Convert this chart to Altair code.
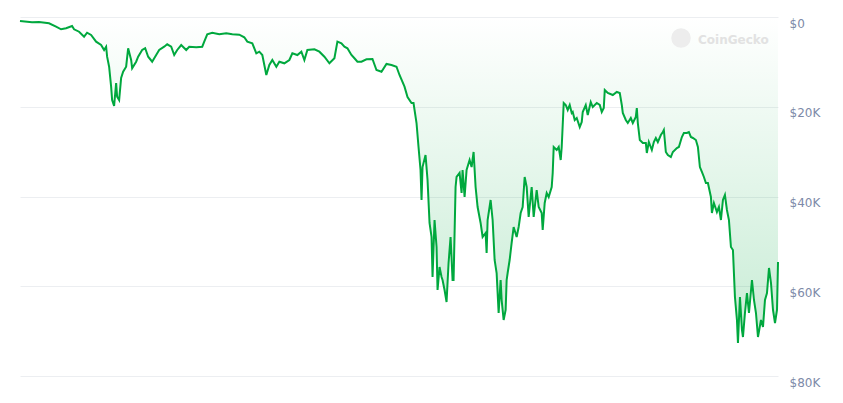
import altair as alt
import pandas as pd

# Time (fractional year) and price (USD)
years = [
    2017.01, 2017.13, 2017.20, 2017.30, 2017.37, 2017.42, 2017.47, 2017.53, 2017.55, 2017.60,
    2017.65, 2017.68, 2017.72, 2017.77, 2017.82, 2017.85, 2017.87, 2017.88, 2017.90, 2017.92,
    2017.93, 2017.95, 2017.97, 2017.98, 2018.00, 2018.02, 2018.04, 2018.07, 2018.09, 2018.12,
    2018.13, 2018.17, 2018.19, 2018.23, 2018.26, 2018.29, 2018.33, 2018.37, 2018.40, 2018.45,
    2018.48, 2018.52, 2018.55, 2018.58, 2018.62, 2018.67, 2018.70, 2018.77, 2018.83, 2018.85,
    2018.88, 2018.93, 2019.00, 2019.07, 2019.13, 2019.20, 2019.25, 2019.28, 2019.33, 2019.37,
    2019.40, 2019.43, 2019.47, 2019.50, 2019.53, 2019.57, 2019.60, 2019.65, 2019.70, 2019.73,
    2019.78, 2019.82, 2019.85, 2019.88, 2019.95, 2020.00, 2020.05, 2020.10, 2020.15, 2020.18,
    2020.22, 2020.25, 2020.28, 2020.32, 2020.35, 2020.38, 2020.42, 2020.47, 2020.53, 2020.57,
    2020.62, 2020.67, 2020.72, 2020.77, 2020.80, 2020.85, 2020.88, 2020.92, 2020.94, 2020.97,
    2020.99, 2021.01, 2021.02, 2021.03, 2021.06, 2021.08, 2021.10, 2021.12, 2021.13, 2021.15,
    2021.17, 2021.18, 2021.20, 2021.22, 2021.23, 2021.25, 2021.27, 2021.29, 2021.31, 2021.33,
    2021.34, 2021.36, 2021.37, 2021.40, 2021.42, 2021.43, 2021.45, 2021.47, 2021.50, 2021.52,
    2021.54, 2021.56, 2021.58, 2021.61, 2021.63, 2021.66, 2021.67, 2021.68, 2021.71, 2021.73,
    2021.75, 2021.77, 2021.79, 2021.81, 2021.82, 2021.84, 2021.86, 2021.87, 2021.88, 2021.90,
    2021.92, 2021.94, 2021.97, 2021.99, 2022.01, 2022.03, 2022.05, 2022.07, 2022.09, 2022.12,
    2022.14, 2022.17, 2022.19, 2022.22, 2022.23, 2022.25, 2022.27, 2022.29, 2022.32, 2022.33,
    2022.34, 2022.37, 2022.39, 2022.41, 2022.42, 2022.44, 2022.46, 2022.48, 2022.50, 2022.52,
    2022.53, 2022.55, 2022.57, 2022.60, 2022.62, 2022.63, 2022.66, 2022.68, 2022.71, 2022.73,
    2022.77, 2022.80, 2022.82, 2022.84, 2022.85, 2022.88, 2022.93, 2022.97, 2023.00, 2023.02,
    2023.03, 2023.06, 2023.08, 2023.11, 2023.13, 2023.16, 2023.17, 2023.18, 2023.20, 2023.23,
    2023.26, 2023.27, 2023.29, 2023.32, 2023.34, 2023.36, 2023.38, 2023.41, 2023.43, 2023.44,
    2023.46, 2023.48, 2023.51, 2023.53, 2023.57, 2023.59, 2023.62, 2023.64, 2023.67, 2023.69,
    2023.71, 2023.73, 2023.76, 2023.78, 2023.80, 2023.82, 2023.84, 2023.86, 2023.88, 2023.91,
    2023.92, 2023.94, 2023.97, 2023.99, 2024.01, 2024.03, 2024.05, 2024.07, 2024.09, 2024.11,
    2024.13, 2024.15, 2024.17, 2024.18, 2024.20, 2024.22, 2024.23, 2024.25, 2024.27, 2024.29,
    2024.32, 2024.34, 2024.36, 2024.38, 2024.41, 2024.43, 2024.45, 2024.47, 2024.49, 2024.51,
    2024.53, 2024.55, 2024.57, 2024.58,
]
prices = [
    900, 1180, 1110, 1400, 2160, 2740, 2520, 2010, 2740, 3280,
    4390, 3500, 4010, 5500, 6240, 7350, 6620, 8850, 11080, 15530,
    18500, 19830, 14710, 17760, 18500, 13590, 12190, 11080, 6970, 9580,
    11430, 9960, 8850, 7350, 6970, 8850, 9960, 8470, 7350, 6620,
    6080, 6620, 8470, 7350, 6240, 7350, 6620, 6750, 6620, 5500,
    3860, 3500, 3860, 3630, 3860, 3940, 4520, 5500, 5860, 8090,
    7730, 8470, 12920, 10700, 9580, 11080, 9960, 10320, 9580, 8090,
    8470, 7730, 9580, 7350, 7200, 7730, 8850, 10320, 9200, 5500,
    5860, 6620, 6970, 8470, 9200, 9960, 9960, 9430, 9360, 11810,
    12190, 10470, 10700, 11080, 12920, 15530, 17830, 19160, 19160, 23620,
    28970, 34090, 40780, 33430, 30750, 36320, 45900, 49020, 57940, 45240,
    51250, 60840, 55710, 57940, 58610, 60840, 63510, 54820, 49020, 58610,
    58610, 37880, 35650, 34760, 39220, 34090, 40110, 34090, 31870, 33430,
    30080, 37880, 42340, 45900, 49020, 48130, 52590, 45240, 40780, 45240,
    54150, 57050, 65960, 58610, 63060, 67520, 65290, 58610, 57050, 54150,
    50360, 46800, 49020, 46800, 43680, 42340, 35650, 37880, 44570, 37880,
    44570, 38550, 42340, 43680, 47470, 41450, 39220, 40110, 37880, 34760,
    28970, 29640, 28970, 31870, 28970, 19160, 19610, 20720, 19610, 21390,
    21170, 22950, 22510, 24510, 23400, 21170, 19610, 21840, 18940, 20060,
    19160, 19610, 21170, 20280, 16270, 16940, 17380, 16710, 16940, 19610,
    21390, 22950, 23620, 22510, 23620, 22280, 20280, 23620, 27410, 28080,
    28080, 30310, 27860, 29640, 27860, 26960, 27860, 26300, 25630, 25180,
    30080, 30750, 31200, 30080, 29190, 28970, 26740, 25850, 25850, 25630,
    26740, 26960, 27410, 28970, 33430, 34540, 35650, 36990, 36990, 40110,
    43680, 41450, 43450, 42340, 45240, 40780, 39670, 43010, 45240, 51250,
    51920, 62400, 67520, 72650, 62400, 69750, 71310, 65960, 61500, 65960,
    58610, 63060, 65960, 71310, 67520, 69080, 63060, 61500, 55930, 59280,
    65290, 68190, 65290, 54600,
]

y_ticks = [0, 20000, 40000, 60000, 80000]
tick_labels = ["$0", "$20K", "$40K", "$60K", "$80K"]

df = pd.DataFrame({"t": years, "price": prices})

label_expr = ""
for v, lab in zip(y_ticks, tick_labels):
    label_expr += f"datum.value == {v} ? '{lab}' : "
label_expr += "''"

x_enc = alt.X("t:Q", axis=None,
              scale=alt.Scale(domain=[min(years), max(years)], nice=False, zero=False))
y_enc = alt.Y(
    "price:Q",
    scale=alt.Scale(domain=[0, 80000], reverse=True, nice=False),
    axis=alt.Axis(
        orient="right", values=y_ticks, labelExpr=label_expr, title=None,
        grid=True, gridColor="#eceef1", gridWidth=1, domain=False, ticks=False,
        labelColor="#7d8aa8", labelFontSize=12, labelFont="DejaVu Sans",
        labelPadding=11, labelOffset=6, labelBaseline="middle",
    ),
)

area = alt.Chart(df).mark_area(
    color=alt.Gradient(
        gradient="linear",
        stops=[
            alt.GradientStop(color="rgba(0,168,62,0)", offset=0),
            alt.GradientStop(color="rgba(0,168,62,0.22)", offset=1),
        ],
        x1=1, x2=1, y1=0, y2=1,
    )
).encode(x=x_enc, y=y_enc)

line = alt.Chart(df).mark_line(color="#00a83e", strokeWidth=2).encode(x=x_enc, y=y_enc)

wm_df = pd.DataFrame({"label": ["CoinGecko"]})
wm_circle = alt.Chart(wm_df).mark_circle(color="#ededed", opacity=1, size=380).encode(
    x=alt.value(661), y=alt.value(21)
)
wm_text = alt.Chart(wm_df).mark_text(
    color="#e2e2e2", fontSize=12, fontWeight="bold", font="DejaVu Sans", align="left"
).encode(x=alt.value(678), y=alt.value(23), text="label:N")

chart = alt.layer(area, line, wm_circle, wm_text).properties(
    width=758, height=359,
    padding={"left": 8, "top": 9, "right": 5, "bottom": 5},
).configure_view(stroke=None)

chart.save("out.html", embed_options={"renderer": "svg", "actions": False})
